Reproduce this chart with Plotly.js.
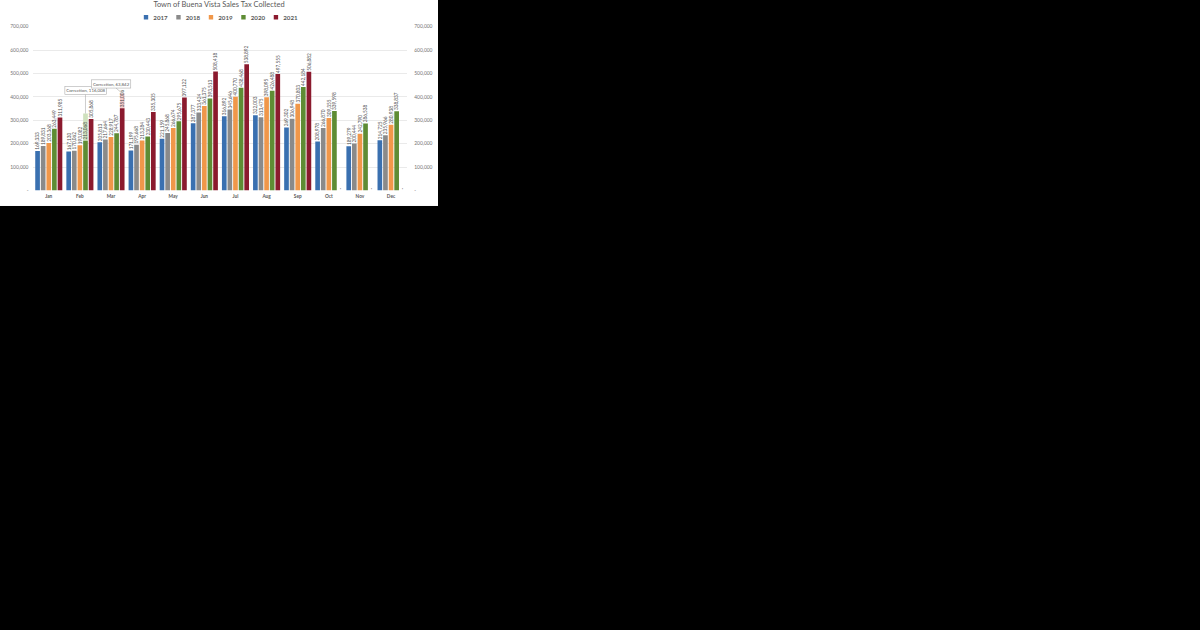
<!DOCTYPE html>
<html>
<head>
<meta charset="utf-8">
<script src="https://cdn.plot.ly/plotly-3.0.1.min.js"></script>
<style>
  html, body { margin: 0; padding: 0; background: #000; overflow: hidden; }
  #wrap { width: 1200px; height: 564px; transform: scale(0.365); transform-origin: 0 0; background: #fff; }
</style>
</head>
<body>
<div id="wrap"><div id="chart" style="width:1200px;height:564px;"></div></div>
<script>
var months = ["Jan", "Feb", "Mar", "Apr", "May", "Jun", "Jul", "Aug", "Sep", "Oct", "Nov", "Dec"]
var years = ["2017", "2018", "2019", "2020", "2021"]

var sales2017 = [169333, 167130, 205813, 171199, 221159, 287377, 316892, 322003, 269302, 208978, 189279, 214725]
var sales2018 = [189831, 170062, 217664, 195668, 245868, 333424, 345646, 313475, 306948, 266870, 200444, 235966]
var sales2019 = [203368, 193082, 228917, 213284, 266674, 361375, 400770, 398095, 370803, 309355, 242790, 280938]
var sales2020 = [263449, 213068, 244787, 230443, 295675, 393513, 438468, 426488, 442184, 339598, 286538, 338837]
var sales2021 = [311985, 305868, 351006, 335305, 397122, 508418, 538892, 497555, 506882, 0, 0, 0]

// corrections shown as lighter segments on top of the bar
var correction2020 = [null, 116008, null, null, null, null, null, null, null, null, null, null]
var correction2021 = [null, null, 63842, null, null, null, null, null, null, null, null, null]

var yTicks = [0, 100000, 200000, 300000, 400000, 500000, 600000, 700000]

var colors = ["#3a70b0", "#8a8a8a", "#f0974a", "#5e8c34", "#8b1a2e"]
var lightColors = { "2020": "#cfe1bd", "2021": "#f2cccc" }

var barWidth = 0.15
var barStep = 0.18
function barOffset(i) { return -0.435 + i * barStep }

function fmt(v) { return v === 0 ? "-" : v.toLocaleString("en-US") }
var tickText = yTicks.map(fmt)

var allSales = [sales2017, sales2018, sales2019, sales2020, sales2021]
var labelFont = { family: "Lato, 'Open Sans', sans-serif", size: 13, color: "#4a4a4a" }

var traces = []

// correction segments first so the value labels sit above them
traces.push({
    type: "bar", x: months, y: correction2020, base: sales2020,
    offset: barOffset(3), width: barWidth,
    marker: { color: lightColors["2020"] },
    showlegend: false, hoverinfo: "skip",
})
traces.push({
    type: "bar", x: months, y: correction2021, base: sales2021,
    offset: barOffset(4), width: barWidth,
    marker: { color: lightColors["2021"] },
    showlegend: false, hoverinfo: "skip",
})

allSales.forEach(function (vals, i) {
    traces.push({
        type: "bar",
        name: years[i],
        x: months,
        y: vals,
        offset: barOffset(i),
        width: barWidth,
        marker: { color: colors[i] },
        text: vals.map(fmt),
        textposition: "outside",
        textangle: -90,
        constraintext: "none",
        cliponaxis: false,
        textfont: labelFont,
    })
})

// invisible trace to bring the right axis up
traces.push({
    type: "scatter", x: months, y: sales2017, yaxis: "y2",
    mode: "none", showlegend: false, hoverinfo: "skip",
})

var axisFont = { family: "Lato, 'Open Sans', sans-serif", size: 13.5, color: "#737373" }

Plotly.newPlot(
    document.getElementById("chart"),
    traces,
    {
        width: 1200,
        height: 564,
        barmode: "overlay",
        paper_bgcolor: "#fff",
        plot_bgcolor: "#fff",
        margin: { t: 73, l: 91, r: 86, b: 42 },
        title: {
            text: "Town of Buena Vista Sales Tax Collected",
            font: { family: "Lato, 'Open Sans', sans-serif", size: 20.5, color: "#595959" },
            x: 0.5,
            xanchor: "center",
            y: 0.978,
            yref: "container",
            yanchor: "middle",
        },
        legend: {
            orientation: "h",
            x: 0.5,
            xanchor: "center",
            y: 1.056,
            yanchor: "middle",
            entrywidth: 44,
            entrywidthmode: "pixels",
            itemwidth: 30,
            traceorder: "normal",
            font: { family: "Lato, 'Open Sans', sans-serif", size: 17, color: "#595959", weight: "bold" },
        },
        xaxis: {
            type: "category",
            categoryorder: "array",
            categoryarray: months,
            range: [-0.5, 11.5],
            showgrid: false,
            zeroline: false,
            showline: false,
            ticks: "",
            ticklabelstandoff: 7,
            tickfont: { family: "Lato, 'Open Sans', sans-serif", size: 13, color: "#595959", weight: "bold" },
        },
        yaxis: {
            range: [0, 700000],
            tickvals: yTicks,
            ticktext: tickText,
            showgrid: true,
            gridcolor: "#d9d9d9",
            gridwidth: 1.5,
            zeroline: false,
            showline: false,
            ticks: "",
            ticklabelstandoff: 12,
            tickfont: axisFont,
            fixedrange: true,
        },
        yaxis2: {
            overlaying: "y",
            side: "right",
            anchor: "x",
            range: [0, 700000],
            tickvals: yTicks,
            ticktext: tickText,
            showgrid: false,
            zeroline: false,
            showline: false,
            ticks: "",
            ticklabelstandoff: 20,
            tickfont: axisFont,
            fixedrange: true,
        },
        annotations: [{
            xref: "x", yref: "y",
            x: 1 + barOffset(3) + barWidth / 2,
            y: sales2020[1] + correction2020[1],
            text: "Correction, " + fmt(correction2020[1]),
            showarrow: true, arrowhead: 0, arrowwidth: 1.5, arrowcolor: "#a6a6a6",
            ax: 0, ay: -63,
            bgcolor: "#fff", bordercolor: "#a6a6a6", borderwidth: 1.5, borderpad: 3,
            font: { family: "Lato, 'Open Sans', sans-serif", size: 12, color: "#595959" },
        }, {
            xref: "x", yref: "y",
            x: 2 + barOffset(4) + barWidth / 2,
            y: sales2021[2] + correction2021[2],
            text: "Correction, " + fmt(correction2021[2]),
            showarrow: true, arrowhead: 0, arrowwidth: 1.5, arrowcolor: "#a6a6a6",
            ax: -30, ay: -26,
            bgcolor: "#fff", bordercolor: "#a6a6a6", borderwidth: 1.5, borderpad: 3,
            font: { family: "Lato, 'Open Sans', sans-serif", size: 12, color: "#595959" },
        }],
    },
    { staticPlot: true }
)
</script>
</body>
</html>
